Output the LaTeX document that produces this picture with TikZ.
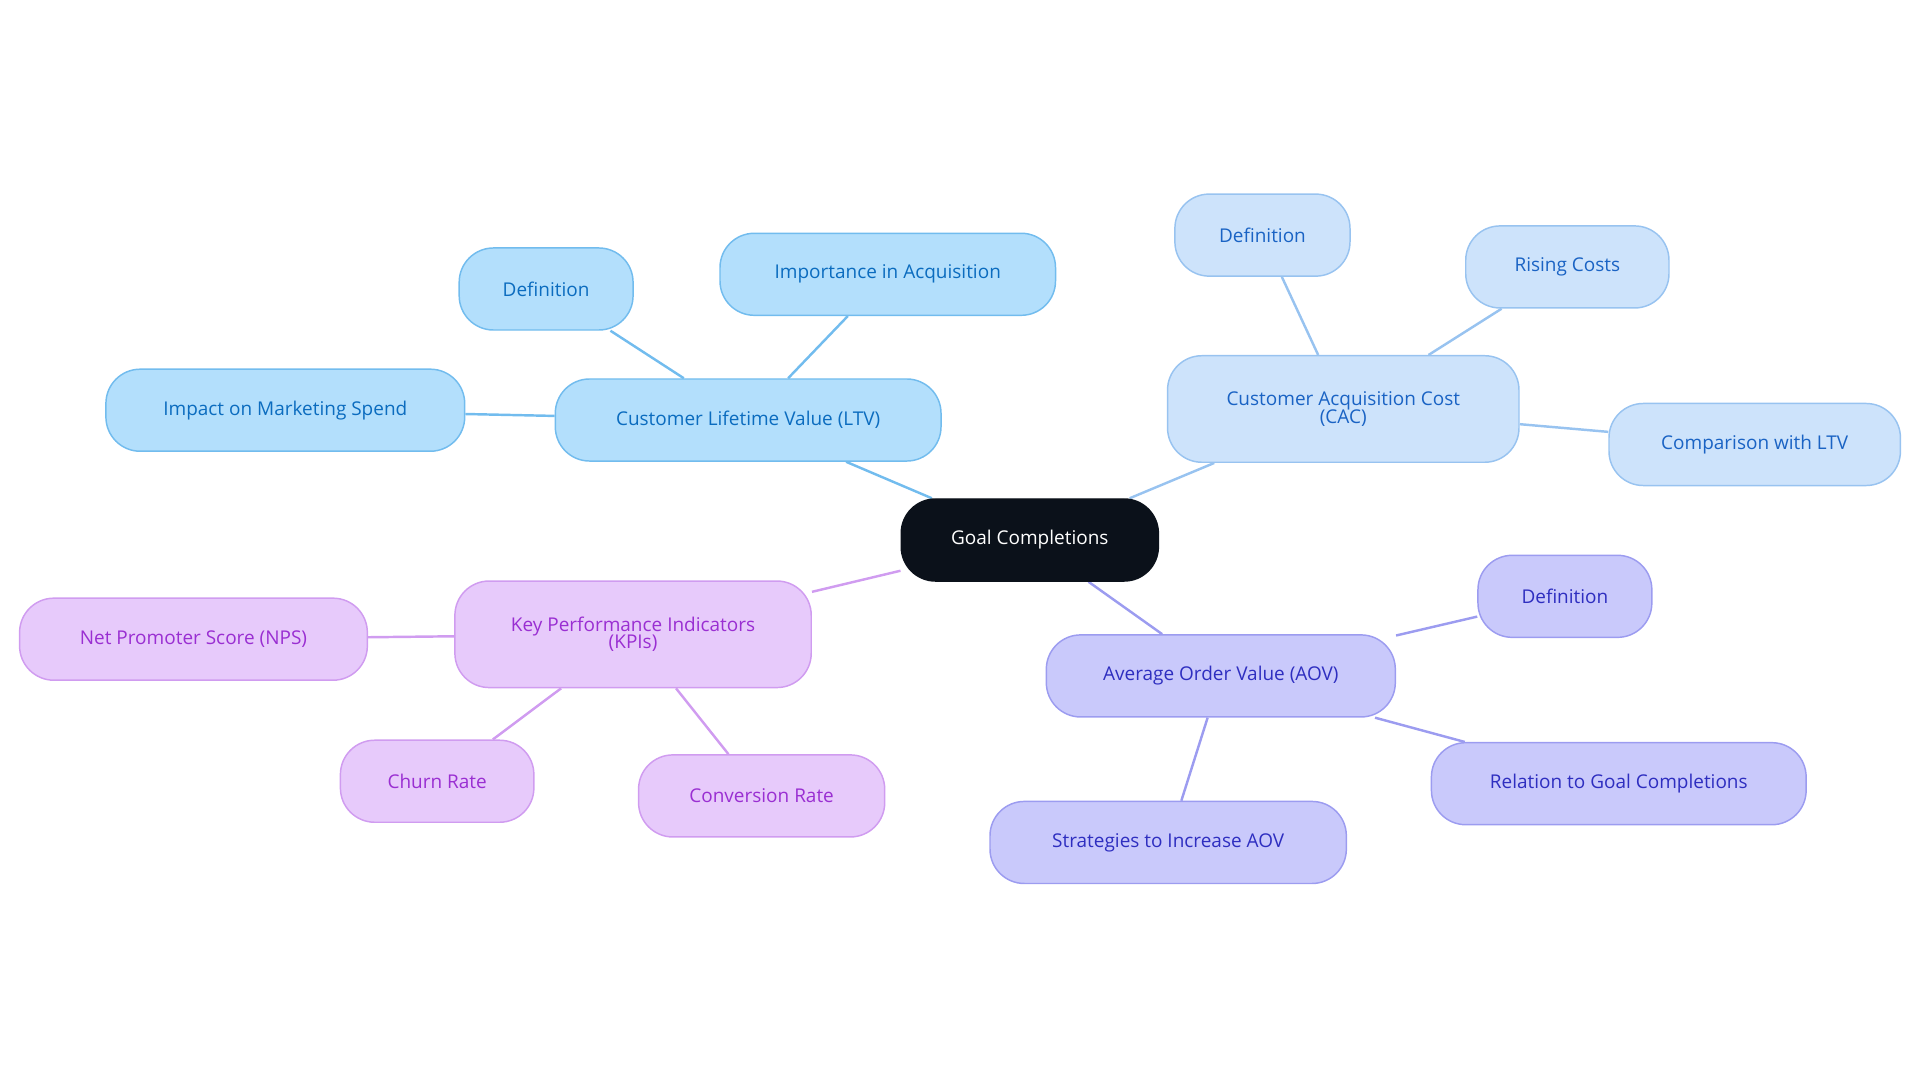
\documentclass[tikz,border=0pt]{standalone}
\usepackage{fontspec}
\setmainfont{Open Sans}
\definecolor{dark}{HTML}{0B111A}
\definecolor{blueA}{HTML}{B3DFFC}\definecolor{blueAd}{HTML}{72BCEE}\definecolor{blueAt}{HTML}{0B6CBF}
\definecolor{blueB}{HTML}{CDE3FB}\definecolor{blueBd}{HTML}{98C3F0}\definecolor{blueBt}{HTML}{1A63C4}
\definecolor{purC}{HTML}{C9C9FB}\definecolor{purCd}{HTML}{9C9CF0}\definecolor{purCt}{HTML}{2E2EC0}
\definecolor{vioD}{HTML}{E7CAFB}\definecolor{vioDd}{HTML}{D09CF0}\definecolor{vioDt}{HTML}{9A2FD2}
\usetikzlibrary{backgrounds}
\begin{document}
\begin{tikzpicture}[x=1pt,y=-1pt,
 base/.style={draw,line width=1.2pt,rounded corners=28pt,align=center,font=\fontsize{15.5}{16}\selectfont,inner sep=0pt},
 bA/.style={base,fill=blueA,draw=blueAd,text=blueAt},
 bB/.style={base,fill=blueB,draw=blueBd,text=blueBt},
 bC/.style={base,fill=purC,draw=purCd,text=purCt},
 bD/.style={base,fill=vioD,draw=vioDd,text=vioDt},
 eA/.style={draw=blueAd,line width=2pt},
 eB/.style={draw=blueBd,line width=2pt},
 eC/.style={draw=purCd,line width=2pt},
 eD/.style={draw=vioDd,line width=2pt}]
\useasboundingbox (0,0) rectangle (1568,884);
\def\nd#1#2#3#4#5#6#7{\node[#1,minimum width=#5pt,minimum height=#6pt] (#2) at (#3,#4) {#7};}
\node[base,fill=dark,draw=dark,text=white,minimum width=210pt,minimum height=67pt] (g) at (841,441) {Goal Completions};
\nd{bA}{ltv}{611}{343}{315}{67}{Customer Lifetime Value (LTV)}
\nd{bA}{d1}{446}{236}{142}{67}{Definition}
\nd{bA}{imp}{725}{224}{274}{67}{Importance in Acquisition}
\nd{bA}{ims}{233}{335}{293}{67}{Impact on Marketing Spend}
\nd{bB}{cac}{1097}{334}{287}{87}{Customer Acquisition Cost\\[-2pt](CAC)}
\nd{bB}{d2}{1031}{192}{143}{67}{Definition}
\nd{bB}{ris}{1280}{218}{166}{67}{Rising Costs}
\nd{bB}{cmp}{1433}{363}{238}{67}{Comparison with LTV}
\nd{bC}{aov}{997}{552}{285}{67}{Average Order Value (AOV)}
\nd{bC}{d3}{1278}{487}{142}{67}{Definition}
\nd{bC}{rel}{1322}{640}{306}{67}{Relation to Goal Completions}
\nd{bC}{str}{954}{688}{291}{67}{Strategies to Increase AOV}
\nd{bD}{kpi}{517}{518}{291}{87}{Key Performance Indicators\\[-2pt](KPIs)}
\nd{bD}{nps}{158}{522}{284}{67}{Net Promoter Score (NPS)}
\nd{bD}{chu}{357}{638}{158}{67}{Churn Rate}
\nd{bD}{con}{622}{650}{201}{67}{Conversion Rate}
\begin{scope}[on background layer]
\path[eA] (g) -- (ltv) (ltv) -- (d1) (ltv) -- (imp) (ltv) -- (ims);
\path[eB] (g) -- (cac) (cac) -- (d2) (cac) -- (ris) (cac) -- (cmp);
\path[eC] (g) -- (aov) (aov) -- (d3) (aov) -- (rel) (aov) -- (str);
\path[eD] (g) -- (kpi) (kpi) -- (nps) (kpi) -- (chu) (kpi) -- (con);
\end{scope}
\end{tikzpicture}
\end{document}
